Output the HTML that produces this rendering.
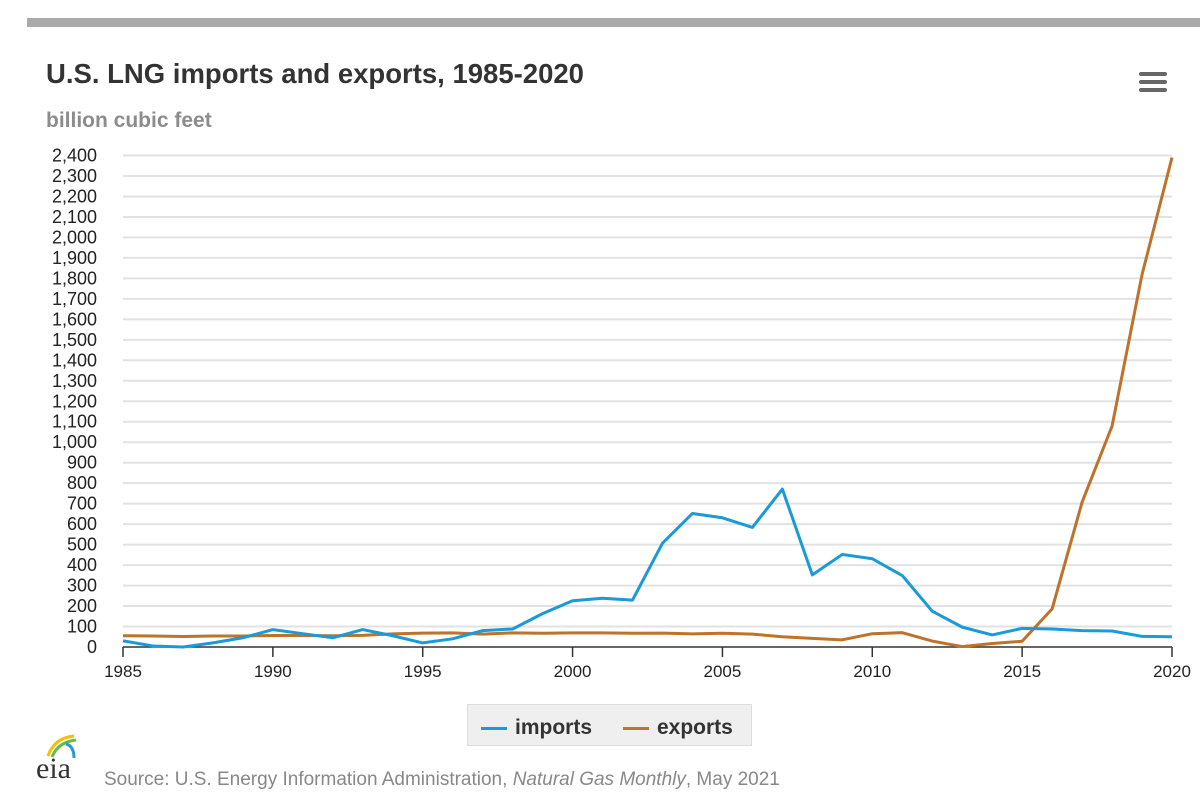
<!DOCTYPE html>
<html><head><meta charset="utf-8"><style>
body{margin:0;width:1200px;height:808px;background:#fff;font-family:"Liberation Sans",sans-serif;overflow:hidden;position:relative}
</style></head><body>
<div style="position:absolute;left:27px;top:18px;width:1173px;height:9px;background:#aaa"></div>
<div style="position:absolute;left:46px;top:58px;font-size:27.5px;font-weight:bold;color:#333">U.S. LNG imports and exports, 1985-2020</div>
<div style="position:absolute;left:46px;top:109px;font-size:21px;font-weight:bold;color:#8c8c8c">billion cubic feet</div>
<div style="position:absolute;left:1139px;top:72px;width:28px">
<div style="height:4px;background:#666;border-radius:2px;margin-bottom:4px"></div><div style="height:4px;background:#666;border-radius:2px;margin-bottom:4px"></div><div style="height:4px;background:#666;border-radius:2px"></div></div>
<svg id="chart" width="1200" height="700" style="position:absolute;left:0;top:0"></svg>
<div style="position:absolute;left:467px;top:704px;width:285px;height:42px;background:#efefef;border:1px solid #ddd;box-sizing:border-box;font-size:21px;font-weight:bold;color:#333">
<span style="position:absolute;left:13px;top:11px"><span style="display:inline-block;width:26px;height:3px;background:#1a9ad6;vertical-align:middle;margin-right:8px"></span>imports</span>
<span style="position:absolute;left:155px;top:11px"><span style="display:inline-block;width:26px;height:3px;background:#bd732a;vertical-align:middle;margin-right:8px"></span>exports</span>
</div>
<div style="position:absolute;left:36px;top:752px;font-family:'Liberation Serif',serif;font-size:30px;color:#333">eia
<svg width="34" height="28" style="position:absolute;left:8px;top:-20px"><path d="M4 24 Q10 6 30 4" stroke="#f5c000" stroke-width="3" fill="none"/><path d="M8 25 Q14 10 32 8" stroke="#6ab84a" stroke-width="3" fill="none"/><path d="M22 12 Q30 14 30 26" stroke="#2a9ad6" stroke-width="3" fill="none"/></svg></div>
<div style="position:absolute;left:104px;top:769px;font-size:19px;color:#888">Source: U.S. Energy Information Administration, <i>Natural Gas Monthly</i>, May 2021</div>
<script>
const years=[1985,1986,1987,1988,1989,1990,1991,1992,1993,1994,1995,1996,1997,1998,1999,2000,2001,2002,2003,2004,2005,2006,2007,2008,2009,2010,2011,2012,2013,2014,2015,2016,2017,2018,2019,2020];
const imports=[30,5,0,20,45,85,65,45,85,55,20,40,80,88,163,226,238,229,507,652,631,584,771,352,452,431,349,175,97,59,91,88,80,78,52,50];
const exports=[55,54,51,54,54,56,56,55,57,64,68,69,63,69,67,69,69,67,68,64,67,63,50,42,35,65,70,29,2,17,28,186,707,1079,1818,2390];
const yTicks=[0,100,200,300,400,500,600,700,800,900,1000,1100,1200,1300,1400,1500,1600,1700,1800,1900,2000,2100,2200,2300,2400];
const xTicks=[1985,1990,1995,2000,2005,2010,2015,2020];
const svg=document.getElementById('chart');
const NS='http://www.w3.org/2000/svg';
const X=v=>123+(v-1985)*(1172-123)/35;
const Y=v=>647-v*(647-155.5)/2400;
function mk(t,a){const e=document.createElementNS(NS,t);for(const k in a)e.setAttribute(k,a[k]);svg.appendChild(e);return e;}
yTicks.forEach(v=>{
 if(v>0){const g=mk('line',{x1:123,x2:1172,y1:Y(v),y2:Y(v),stroke:'#e2e2e2','stroke-width':2});
 
 }
 const t=mk('text',{x:97,y:Y(v)+6,'text-anchor':'end','font-size':18,fill:'#222','font-family':'Liberation Sans, sans-serif'});
 t.textContent=v.toLocaleString('en-US');
 
 
});
const ax=mk('line',{x1:123,x2:1172,y1:647,y2:647,stroke:'#333','stroke-width':1.5});


xTicks.forEach(v=>{
 const tk=mk('line',{x1:X(v),x2:X(v),y1:647,y2:657,stroke:'#333','stroke-width':1.5});
 
 
 const t=mk('text',{x:X(v),y:677,'text-anchor':'middle','font-size':17,fill:'#222','font-family':'Liberation Sans, sans-serif'});
 t.textContent=v;
 
 
});
function line(vals,color,name){
 const p=mk('polyline',{points:vals.map((v,i)=>X(years[i])+','+Y(v)).join(' '),fill:'none',stroke:color,'stroke-width':3,'stroke-linejoin':'round'});
 
 
}
line(exports,'#bd732a','exports-line');
line(imports,'#1a9ad6','imports-line');
</script>
</body></html>
